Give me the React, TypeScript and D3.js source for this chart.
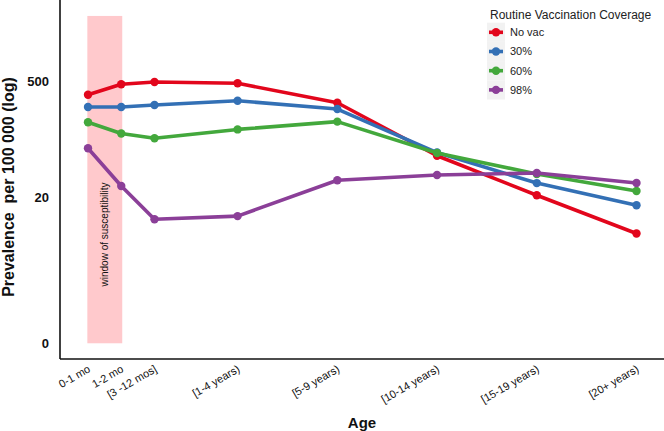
import React, { useEffect, useRef } from 'react';
import * as d3 from 'd3';

// age groups: label + position along the x axis (first groups are months)
const ageLabels = ['0-1 mo', '1-2 mo', '[3 -12 mos]', '[1-4 years)', '[5-9 years)', '[10-14 years)', '[15-19 years)', '[20+ years)'];
const agePos = [0, 1, 2, 4.5, 7.5, 10.5, 13.5, 16.5];

// prevalence per 100 000
const noVac = [348, 465, 496, 478, 279, 64, 21.4, 7.4];
const cov30 = [248, 248, 262, 295, 234, 70, 30, 16.2];
const cov60 = [162, 119, 104, 133, 165, 69, 38.6, 24.1];
const cov98 = [79, 27.7, 11.0, 12.0, 32.4, 37.5, 39.7, 30.1];

const seriesNames = ['No vac', '30%', '60%', '98%'];
const seriesColors = ['#e2061c', '#3370b5', '#43a83c', '#8b3f98'];
const seriesValues = [noVac, cov30, cov60, cov98];

const yTickValues = [0.352, 20, 500];
const yTickLabels = ['0', '20', '500'];
const yDomain = [0.2275, 4826];

// shaded window (x in age position units, y in prevalence units)
const windowX = [-0.02, 1.03];
const windowY = [0.352, 3100];

const W = 664;
const H = 431;

export default function App() {
  const svgRef = useRef<SVGSVGElement>(null);

  useEffect(() => {
    if (!svgRef.current) return;
    const svg = d3.select(svgRef.current);
    svg.selectAll('*').remove();

    const left = 60, right = 664, top = 0, bottom = 359;

    const x = d3.scaleLinear().domain([0, 16.5]).range([88, 636.5]);
    const y = d3.scaleLog().domain(yDomain).range([bottom, top]);

    // window of susceptibility
    svg.append('rect')
      .attr('x', x(windowX[0]))
      .attr('width', x(windowX[1]) - x(windowX[0]))
      .attr('y', y(windowY[1]))
      .attr('height', y(windowY[0]) - y(windowY[1]))
      .attr('fill', '#ffc9cc');

    svg.append('text')
      .attr('transform', `translate(108,234.5) rotate(-90)`)
      .attr('text-anchor', 'middle')
      .style('font-family', 'Liberation Sans, Arial, sans-serif')
      .style('font-size', '10px')
      .attr('fill', '#111')
      .text('window of susceptibility');

    // axes lines
    svg.append('line')
      .attr('x1', left).attr('x2', left).attr('y1', top).attr('y2', bottom)
      .attr('stroke', '#111').attr('stroke-width', 1.6);
    svg.append('line')
      .attr('x1', left).attr('x2', right).attr('y1', bottom).attr('y2', bottom)
      .attr('stroke', '#111').attr('stroke-width', 1.6);

    // y tick labels
    yTickValues.forEach((v, i) => {
      svg.append('text')
        .attr('x', 49)
        .attr('y', y(v))
        .attr('dy', '0.36em')
        .attr('text-anchor', 'end')
        .style('font-family', 'Liberation Sans, Arial, sans-serif')
        .style('font-size', '13px')
        .style('font-weight', 'bold')
        .attr('fill', '#111')
        .text(yTickLabels[i]);
    });

    // x tick labels
    ageLabels.forEach((lab, i) => {
      const tx = x(agePos[i]) - 1;
      svg.append('text')
        .attr('transform', `translate(${tx},364) rotate(-30)`)
        .attr('dy', '0.75em')
        .attr('text-anchor', 'end')
        .style('font-family', 'Liberation Sans, Arial, sans-serif')
        .style('font-size', '11px')
        .attr('fill', '#111')
        .text(lab);
    });

    // axis titles
    svg.append('text')
      .attr('x', (left + right) / 2)
      .attr('y', 428)
      .attr('text-anchor', 'middle')
      .style('font-family', 'Liberation Sans, Arial, sans-serif')
      .style('font-size', '15px')
      .style('font-weight', 'bold')
      .attr('fill', '#111')
      .text('Age');

    svg.append('text')
      .attr('transform', `translate(13.5,187) rotate(-90)`)
      .attr('text-anchor', 'middle')
      .style('font-family', 'Liberation Sans, Arial, sans-serif')
      .style('font-size', '16px')
      .style('font-weight', 'bold')
      .style('white-space', 'pre')
      .attr('fill', '#111')
      .text('Prevalence  per 100 000 (log)');

    // lines + points
    const line = d3.line<number>()
      .x((_, i) => x(agePos[i]))
      .y(d => y(d));

    seriesValues.forEach((vals, s) => {
      const g = svg.append('g');
      g.append('path')
        .attr('d', line(vals) as string)
        .attr('fill', 'none')
        .attr('stroke', seriesColors[s])
        .attr('stroke-width', 3.6)
        .attr('stroke-linejoin', 'round');
      g.selectAll('circle')
        .data(vals)
        .join('circle')
        .attr('cx', (_, i) => x(agePos[i]))
        .attr('cy', d => y(d))
        .attr('r', 4.2)
        .attr('fill', seriesColors[s]);
    });

    // legend
    const lg = svg.append('g');
    lg.append('text')
      .attr('x', 490)
      .attr('y', 19)
      .style('font-family', 'Liberation Sans, Arial, sans-serif')
      .style('font-size', '12px')
      .attr('fill', '#222')
      .text('Routine Vaccination Coverage');

    seriesNames.forEach((name, i) => {
      const cy = 32.3 + i * 19.2;
      lg.append('rect')
        .attr('x', 487).attr('y', cy - 9.6)
        .attr('width', 18).attr('height', 19.2)
        .attr('fill', '#f2f2f2');
      lg.append('line')
        .attr('x1', 489).attr('x2', 503).attr('y1', cy).attr('y2', cy)
        .attr('stroke', seriesColors[i]).attr('stroke-width', 3.6);
      lg.append('circle')
        .attr('cx', 496).attr('cy', cy).attr('r', 4.2)
        .attr('fill', seriesColors[i]);
      lg.append('text')
        .attr('x', 510)
        .attr('y', cy)
        .attr('dy', '0.36em')
        .style('font-family', 'Liberation Sans, Arial, sans-serif')
        .style('font-size', '11px')
        .attr('fill', '#222')
        .text(name);
    });
  }, []);

  return (
    <svg
      ref={svgRef}
      width={W}
      height={H}
      style={{ position: 'absolute', left: 0, top: 0, background: '#fff' }}
    />
  );
}
